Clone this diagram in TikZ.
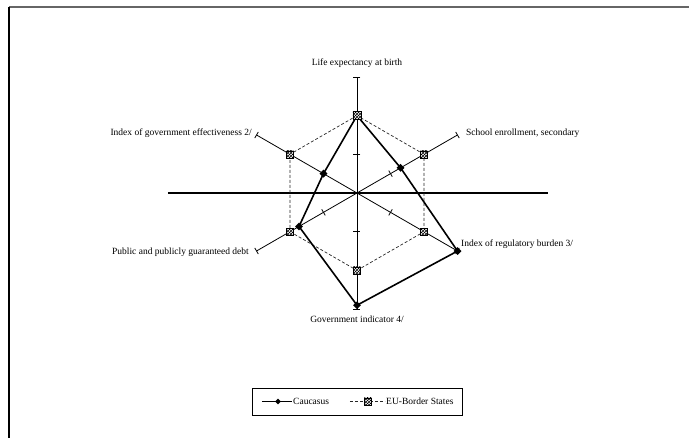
\documentclass[tikz,border=0pt]{standalone}
\usepackage{fontspec}
\setmainfont{Liberation Serif}
\usetikzlibrary{shapes.geometric,patterns}

\tikzset{
	axis/.style={line width=0.8pt},
	cau/.style={line width=1.6pt},
	eu/.style={line width=0.7pt, densely dashed, black!85},
	caumark/.style={diamond, fill=black, inner sep=0pt, minimum size=8pt},
	eumark/.style={rectangle, draw=black, preaction={fill=white}, pattern=crosshatch, inner sep=0pt, minimum size=7pt},
	lbl/.style={font=\fontsize{9.5}{11}\selectfont, inner sep=1pt}
}

\begin{document}
\begin{tikzpicture}[x=1pt,y=1pt]
		\useasboundingbox (-357,-245) rectangle (332,193);
		% frame
		\draw [line width=1.5pt, black!60] (-348,186) -- (332,186);
		\draw [line width=1.2pt] (-348,186) -- (-348,-245);
		
		\coordinate (O) at (0,0);
		\coordinate (HL) at (-189,0);
		\coordinate (HR) at (191,0);
		\draw [line width=1.3pt] (HL) -- (HR);
		
		% axes with ticks
		\foreach \a [count=\i] in {90,30,-30,-90,210,150} {
			\coordinate (ax\i) at (\a:116);
			\draw [axis] (O) -- (ax\i);
			\begin{scope}[rotate=\a]
				\foreach \r in {38.7,77.4,116}
					\draw [axis] (\r,-3.5) -- (\r,3.5);
			\end{scope}
		}
		
		% EU-Border States
		\foreach \a/\v [count=\i] in {90/2,30/2,-30/2,-90/2,210/2,150/2}
			\node [eumark] (E\i) at (\a:\v*38.7) {};
		\draw [eu] (E1) -- (E2) -- (E3) -- (E4) -- (E5) -- (E6) -- (E1);
		
		% Caucasus
		\foreach \a/\v [count=\i] in {90/2,30/1.3,-30/3,-90/2.9,210/1.73,150/1}
			\coordinate (C\i) at (\a:\v*38.7);
		\draw [cau, line join=round] (C1) -- (C2) -- (C3) -- (C4) -- (C5) -- (C6) -- cycle;
		\foreach \i in {2,...,6}
			\node [caumark] (CM\i) at (C\i) {};
		\node [eumark, minimum size=8pt] at (E1) {};
		
		% axis labels
		\node [lbl] (L1) at (0,130) {Life expectancy at birth};
		\node [lbl, anchor=west] (L2) at (108,60) {School enrollment, secondary};
		\node [lbl, anchor=west] (L3) at (103,-51) {Index of regulatory burden 3/};
		\node [lbl] (L4) at (0,-126) {Government indicator 4/};
		\node [lbl, anchor=east] (L5) at (-107,-59) {Public and publicly guaranteed debt};
		\node [lbl, anchor=east] (L6) at (-104,60) {Index of government effectiveness 2/};
		
		% legend
		\node [draw, line width=0.8pt, minimum width=210pt, minimum height=27pt, inner sep=0pt] (leg) at (0,-208.5) {};
		\coordinate (la) at (-95,-208.5);
		\coordinate (lb) at (-65,-208.5);
		\draw [cau, line width=1.2pt] (la) -- (lb);
		\node [caumark, minimum size=6pt] (lcm) at (-79,-208.5) {};
		\node [lbl, anchor=west] (lct) at (lb) {Caucasus};
		\coordinate (lc) at (-7,-208.5);
		\coordinate (ld) at (28,-208.5);
		\draw [eu] (lc) -- (ld);
		\node [eumark, minimum size=7pt] (lem) at (11,-208.5) {};
		\node [lbl, anchor=west] (let) at (ld) {EU-Border States};
\end{tikzpicture}
\end{document}
